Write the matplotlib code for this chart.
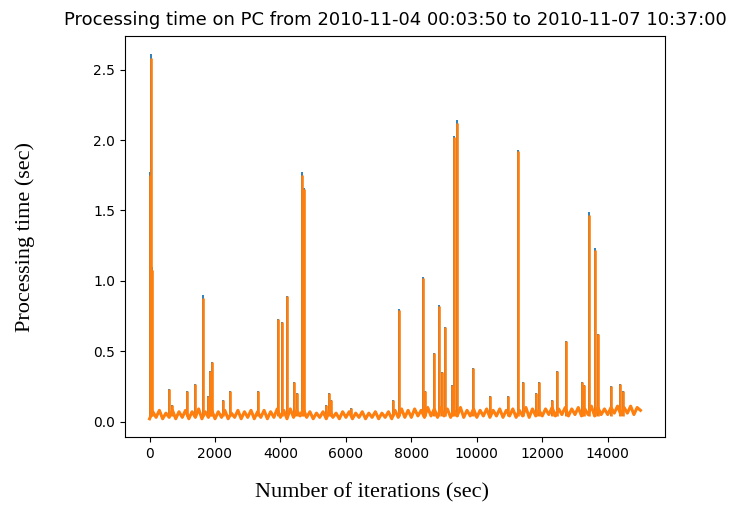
import numpy as np
import matplotlib
matplotlib.use("Agg")
import matplotlib.pyplot as plt

# baseline level of the processing time, one value every 100 iterations
base_iter = list(range(0, 15001, 100))
base_time = [0.02, 0.07, 0.03, 0.08, 0.02, 0.06, 0.03, 0.08, 0.02, 0.07,
             0.03, 0.08, 0.02, 0.07, 0.03, 0.09, 0.02, 0.07, 0.03, 0.08,
             0.02, 0.07, 0.03, 0.08, 0.02, 0.06, 0.03, 0.08, 0.02, 0.07,
             0.03, 0.08, 0.02, 0.07, 0.03, 0.08, 0.02, 0.07, 0.03, 0.09,
             0.03, 0.08, 0.02, 0.09, 0.03, 0.08, 0.04, 0.09, 0.03, 0.07,
             0.02, 0.06, 0.03, 0.07, 0.02, 0.08, 0.03, 0.06, 0.02, 0.07,
             0.03, 0.07, 0.02, 0.06, 0.03, 0.07, 0.02, 0.06, 0.03, 0.07,
             0.02, 0.06, 0.03, 0.07, 0.02, 0.08, 0.03, 0.09, 0.03, 0.08,
             0.03, 0.09, 0.04, 0.08, 0.03, 0.10, 0.04, 0.09, 0.03, 0.10,
             0.04, 0.09, 0.03, 0.08, 0.04, 0.10, 0.03, 0.08, 0.04, 0.09,
             0.03, 0.08, 0.04, 0.09, 0.03, 0.08, 0.04, 0.09, 0.03, 0.08,
             0.04, 0.09, 0.03, 0.08, 0.04, 0.10, 0.03, 0.09, 0.04, 0.08,
             0.04, 0.09, 0.05, 0.10, 0.04, 0.09, 0.05, 0.10, 0.04, 0.09,
             0.05, 0.10, 0.04, 0.09, 0.05, 0.11, 0.04, 0.10, 0.05, 0.09,
             0.05, 0.10, 0.06, 0.11, 0.05, 0.10, 0.06, 0.11, 0.05, 0.10,
             0.08]

# spikes: iteration, peak for first run, peak for second run
spike_iter = [10, 35, 90, 580, 700, 1130, 1380, 1620, 1780, 1840, 1900,
              2230, 2470, 3300, 3910, 4040, 4190, 4400, 4520, 4650, 4720,
              5400, 5480, 5550, 6150, 7430, 7620, 8350, 8410, 8690, 8840,
              8930, 9020, 9230, 9300, 9390, 9880, 10400, 10950, 11250,
              11400, 11800, 11900, 12300, 12440, 12720, 13200, 13280,
              13430, 13600, 13700, 14100, 14370, 14470]
spike_run1 = [1.77, 2.61, 1.10, 0.23, 0.12, 0.22, 0.27, 0.90, 0.18, 0.36, 0.42,
              0.15, 0.22, 0.22, 0.73, 0.71, 0.89, 0.28, 0.20, 1.77, 1.66,
              0.12, 0.20, 0.15, 0.10, 0.15, 0.80, 1.03, 0.22, 0.49, 0.83,
              0.35, 0.67, 0.26, 2.03, 2.14, 0.38, 0.18, 0.18, 1.93,
              0.28, 0.20, 0.28, 0.15, 0.36, 0.57, 0.28, 0.26,
              1.49, 1.23, 0.62, 0.25, 0.27, 0.22]
spike_run2 = [1.75, 2.58, 1.08, 0.23, 0.12, 0.22, 0.27, 0.88, 0.18, 0.36, 0.42,
              0.15, 0.22, 0.22, 0.73, 0.71, 0.89, 0.28, 0.20, 1.75, 1.65,
              0.12, 0.20, 0.15, 0.10, 0.15, 0.79, 1.02, 0.22, 0.49, 0.82,
              0.35, 0.67, 0.26, 2.02, 2.12, 0.38, 0.18, 0.18, 1.92,
              0.28, 0.20, 0.28, 0.15, 0.36, 0.57, 0.28, 0.26,
              1.47, 1.22, 0.62, 0.25, 0.27, 0.22]
spike_floor = 0.04

fig = plt.figure(figsize=(7.29, 5.08), dpi=100)
ax = fig.add_axes([125 / 729, 1 - 437 / 508, 540 / 729, 401 / 508])

# first run (blue) underneath, second run (orange) drawn on top
ax.plot(base_iter, base_time, color="#1f77b4", linewidth=1.2)
ax.vlines(spike_iter, spike_floor, spike_run1, color="#1f77b4", linewidth=1.3)
ax.plot(base_iter, base_time, color="#ff7f0e", linewidth=2.2)
ax.vlines(spike_iter, spike_floor, spike_run2, color="#ff7f0e", linewidth=1.9)

ax.set_xticks([0, 2000, 4000, 6000, 8000, 10000, 12000, 14000])
ax.set_yticks([0.0, 0.5, 1.0, 1.5, 2.0, 2.5])
ax.tick_params(labelsize=10)

ax.set_title("Processing time on PC from 2010-11-04 00:03:50 to 2010-11-07 10:37:00",
             fontsize=13, pad=8)

fig.text(25 / 729, 1 - 237 / 508, "Processing time (sec)", rotation=90,
         ha="center", va="center", family="Liberation Serif", fontsize=16)
fig.text(372 / 729, 1 - 493 / 508, "Number of iterations (sec)",
         ha="center", va="center", family="Liberation Serif", fontsize=16)

fig.savefig("out.png", dpi=100)
